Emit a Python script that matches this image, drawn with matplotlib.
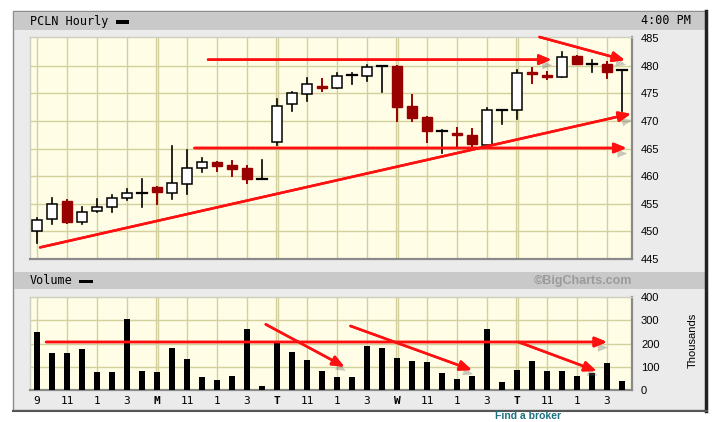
import matplotlib
matplotlib.use('Agg')
import matplotlib.pyplot as plt
from matplotlib.patches import Rectangle
import matplotlib.patheffects as pe

# ---------------- data ----------------
opens  = [450.0, 452.2, 455.5, 451.7, 453.7, 454.5, 456.0, 456.9,
          458.0, 456.9, 458.6, 461.5, 462.5, 462.0, 461.5, 459.5,
          466.1, 473.1, 474.9, 476.4, 475.9, 478.3, 478.2, 480.0,
          480.0, 472.7, 470.8, 468.2, 467.9, 467.5, 465.7, 472.0,
          472.0, 478.9, 478.3, 477.9, 481.8, 480.3, 480.3, 479.2]
highs  = [452.4, 456.1, 455.6, 454.5, 455.8, 456.5, 457.6, 459.4,
          458.0, 465.5, 464.8, 463.3, 462.5, 462.8, 461.9, 463.0,
          473.9, 475.3, 477.7, 477.6, 478.7, 478.6, 480.1, 480.0,
          480.0, 474.7, 470.8, 468.4, 468.8, 468.5, 472.3, 472.0,
          479.2, 479.5, 478.9, 482.4, 481.8, 481.0, 480.7, 479.2]
lows   = [447.9, 451.3, 451.5, 451.4, 453.6, 453.5, 455.6, 454.5,
          455.0, 455.9, 456.8, 460.7, 461.0, 460.1, 458.7, 459.5,
          465.7, 471.8, 473.6, 475.5, 475.9, 476.6, 477.3, 475.2,
          470.0, 470.0, 466.1, 464.2, 465.2, 465.2, 465.5, 469.5,
          470.4, 476.8, 477.6, 477.9, 480.3, 478.8, 477.8, 471.8]
closes = [452.0, 455.0, 451.7, 453.5, 454.5, 456.0, 456.9, 456.9,
          457.1, 458.7, 461.5, 462.5, 461.8, 461.3, 459.5, 459.5,
          472.7, 475.0, 476.6, 475.9, 478.2, 478.3, 479.7, 480.0,
          472.6, 470.5, 468.1, 468.2, 467.5, 465.8, 472.0, 472.0,
          478.6, 478.5, 478.0, 481.6, 480.3, 480.3, 478.9, 479.2]
volumes = [249, 160, 160, 177, 77, 77, 307, 83,
           77, 181, 135, 55, 42, 61, 265, 19,
           206, 165, 129, 82, 55, 55, 189, 179,
           139, 127, 121, 72, 46, 61, 262, 36,
           86, 127, 82, 82, 61, 72, 117, 40]
xtick_labels = ['9', '11', '1', '3', 'M', '11', '1', '3', 'T', '11', '1', '3',
                'W', '11', '1', '3', 'T', '11', '1', '3']
price_ticks = [445, 450, 455, 460, 465, 470, 475, 480, 485]
volume_ticks = [0, 100, 200, 300, 400]

# annotation arrows (start -> tip) in data coordinates
price_arrows = [((11.4, 481.1), (34.3, 481.1)),
                ((33.5, 485.2), (39.2, 481.0)),
                ((10.5, 465.1), (39.3, 465.1)),
                ((0.2, 447.1), (39.6, 471.3))]
volume_arrows = [((0.6, 207), (38.0, 207)),
                 ((15.25, 283), (20.5, 100)),
                 ((20.9, 276), (29.0, 86)),
                 ((32.1, 207), (37.3, 82))]

# ---------------- layout ----------------
W, H = 715, 422
fig = plt.figure(figsize=(W / 100, H / 100), dpi=100)


def rect(x0, y0, x1, y1):
    return [x0 / W, 1 - y1 / H, (x1 - x0) / W, (y1 - y0) / H]


MONO = 'DejaVu Sans Mono'
SANS = 'Liberation Sans'
PLOT_BG = '#fffde6'
GRID = '#d3d09e'
RED = '#990000'

bg = fig.add_axes([0, 0, 1, 1])
bg.set_xlim(0, W)
bg.set_ylim(H, 0)
bg.axis('off')
bg.add_patch(Rectangle((13, 11), 693, 399, facecolor='#ebebeb', edgecolor='#8c8c8c', lw=1))
bg.add_patch(Rectangle((14, 12), 691, 18, facecolor='#c9c9c9', lw=0))
bg.add_patch(Rectangle((14, 272), 691, 17, facecolor='#c9c9c9', lw=0))
bg.plot([706, 706], [11, 411], color='#222222', lw=2.5)
bg.plot([13, 707], [410.5, 410.5], color='#555555', lw=1.5)

bg.text(30, 21, 'PCLN Hourly', family=MONO, fontsize=8.5, va='center', ha='left')
bg.add_patch(Rectangle((116, 20), 13, 3.5, facecolor='black', lw=0))
bg.text(641, 21, '4:00 PM', family=MONO, fontsize=8.5, va='center', ha='left')
bg.text(30, 281, 'Volume', family=MONO, fontsize=8.5, va='center', ha='left')
bg.add_patch(Rectangle((79, 279.5), 14, 3.5, facecolor='black', lw=0))
bg.text(632, 281, '\u00a9BigCharts.com', family=SANS, fontsize=9, fontweight='bold',
        color='#9b9b9b', va='center', ha='right')
bg.text(693, 340, 'Thousands', family=SANS, fontsize=8, rotation=90,
        va='center', ha='center')
bg.text(528, 421, 'Find a broker', family=SANS, fontsize=7.5, fontweight='bold',
        color='#1f6f80', va='bottom', ha='center')

XLIM = (-0.47, 39.67)
shadow = [pe.withSimplePatchShadow(offset=(3, -4), shadow_rgbFace='#666666', alpha=0.35),
          pe.Normal()]


def style_axes(ax):
    ax.set_facecolor(PLOT_BG)
    ax.set_xlim(*XLIM)
    for s in ('top', 'left'):
        ax.spines[s].set_color('#cfcfc0')
        ax.spines[s].set_linewidth(1)
    for s in ('bottom', 'right'):
        ax.spines[s].set_color('#8a8a8a')
        ax.spines[s].set_linewidth(1.6)
    for xv in range(0, 40, 2):
        if xv in (8, 16, 24, 32):
            ax.axvline(xv - 0.07, color=GRID, lw=1, zorder=0)
            ax.axvline(xv + 0.07, color=GRID, lw=1, zorder=0)
        else:
            ax.axvline(xv, color=GRID, lw=1, zorder=0)
    ax.yaxis.tick_right()
    ax.tick_params(axis='y', length=0, pad=6.5, labelsize=8)
    for lab in ax.get_yticklabels():
        lab.set_family(SANS)


# ---------------- price panel ----------------
ax = fig.add_axes(rect(30, 37, 632, 259))
ax.set_ylim(445, 485.2)
ax.set_yticks(price_ticks)
ax.set_yticklabels([str(t) for t in price_ticks], family=SANS, fontsize=8)
style_axes(ax)
ax.set_xticks([])
for yv in price_ticks[1:-1]:
    ax.axhline(yv, color=GRID, lw=1, zorder=0)

bw = 0.62
for i in range(len(opens)):
    o, h, l, c = opens[i], highs[i], lows[i], closes[i]
    if abs(c - o) < 0.05:
        col = 'black'
        ax.plot([i, i], [l, h], color=col, lw=1.2, zorder=3)
        ax.plot([i - bw / 2, i + bw / 2], [o, o], color=col, lw=1.6, zorder=3)
    elif c > o:
        ax.plot([i, i], [l, h], color='black', lw=1.2, zorder=2)
        ax.add_patch(Rectangle((i - bw / 2, o), bw, c - o, facecolor='white',
                               edgecolor='black', lw=1.1, zorder=3))
    else:
        ax.plot([i, i], [l, h], color=RED, lw=1.4, zorder=2)
        ax.add_patch(Rectangle((i - bw / 2, c), bw, o - c, facecolor=RED,
                               edgecolor=RED, lw=1.0, zorder=3))

for (s, t) in price_arrows:
    ax.annotate('', xy=t, xytext=s, annotation_clip=False,
                arrowprops=dict(arrowstyle='-|>,head_length=0.6,head_width=0.25',
                                color='#ff1010', lw=1.8, shrinkA=0, shrinkB=0,
                                mutation_scale=12, path_effects=shadow),
                zorder=5)

# ---------------- volume panel ----------------
vx = fig.add_axes(rect(30, 297, 632, 390))
vx.set_ylim(0, 401)
vx.set_yticks(volume_ticks)
vx.set_yticklabels([str(t) for t in volume_ticks], family=SANS, fontsize=8)
style_axes(vx)
for yv in volume_ticks[1:-1]:
    vx.axhline(yv, color=GRID, lw=1, zorder=0)
vx.bar(range(len(volumes)), volumes, width=0.37, color='black', zorder=3)
vx.set_xticks(range(0, 40, 2))
vx.set_xticklabels(xtick_labels, family=MONO, fontsize=8)
for lab in vx.get_xticklabels():
    if lab.get_text() in ('M', 'T', 'W'):
        lab.set_fontweight('bold')
vx.tick_params(axis='x', length=0, pad=4)

for (s, t) in volume_arrows:
    vx.annotate('', xy=t, xytext=s, annotation_clip=False,
                arrowprops=dict(arrowstyle='-|>,head_length=0.6,head_width=0.25',
                                color='#ff1010', lw=1.8, shrinkA=0, shrinkB=0,
                                mutation_scale=12, path_effects=shadow),
                zorder=5)

fig.savefig('out.png', dpi=100)
